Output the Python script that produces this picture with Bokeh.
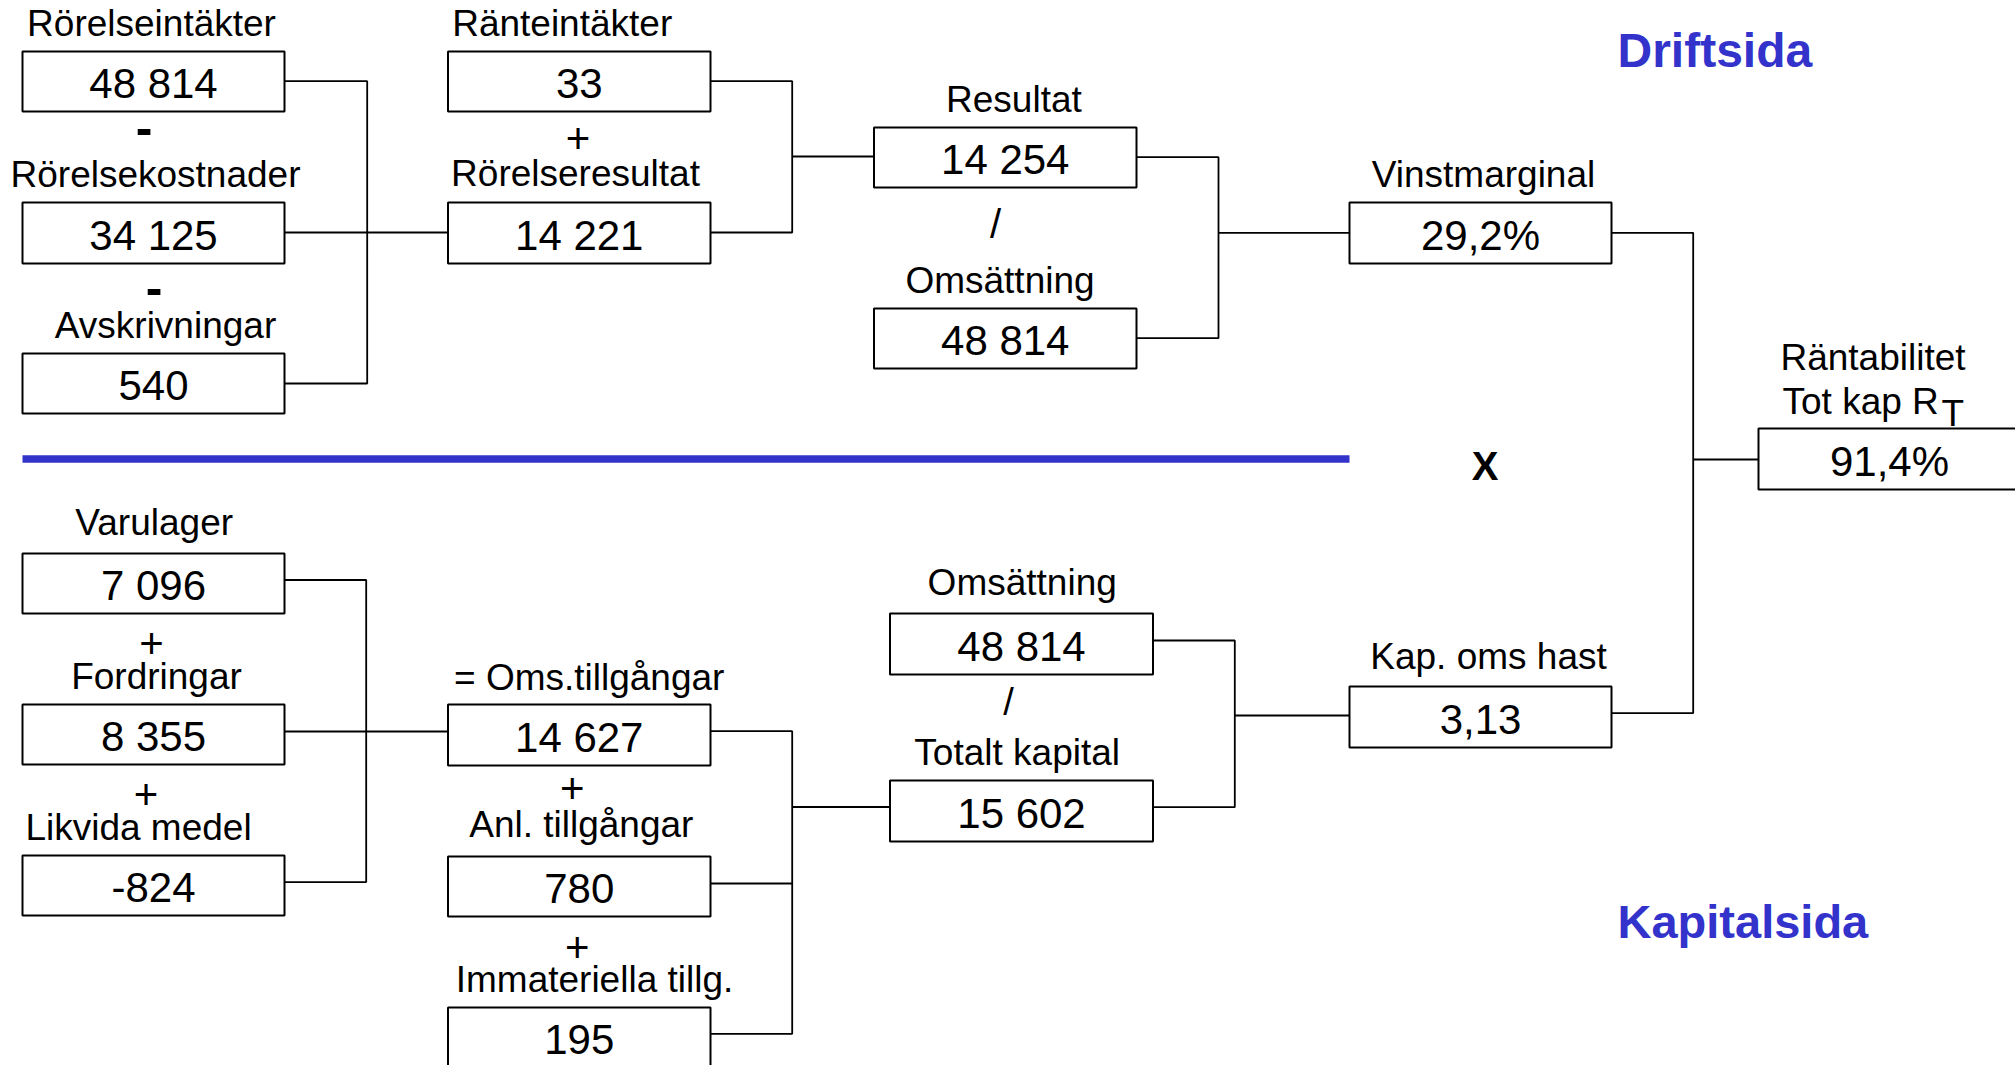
from bokeh.plotting import figure
from bokeh.models import Range1d, ColumnDataSource
from bokeh.core.properties import value
from bokeh.embed import file_html
from bokeh.resources import INLINE

# ---------------- data ----------------
drift_labels = ["Rörelseintäkter", "Rörelsekostnader", "Avskrivningar", "Ränteintäkter",
                "Rörelseresultat", "Resultat", "Omsättning", "Vinstmarginal"]
drift_values = [48814, 34125, 540, 33, 14221, 14254, 48814, 29.2]
drift_kinds = ["int", "int", "int", "int", "int", "int", "int", "pct"]

kapital_labels = ["Varulager", "Fordringar", "Likvida medel", "= Oms.tillgångar",
                  "Anl. tillgångar", "Immateriella tillg.", "Omsättning", "Totalt kapital",
                  "Kap. oms hast"]
kapital_values = [7096, 8355, -824, 14627, 780, 195, 48814, 15602, 3.13]
kapital_kinds = ["int", "int", "int", "int", "int", "int", "int", "int", "dec"]

result_label = ["Räntabilitet", "Tot kap R", "T"]
result_value = [91.4]
result_kind = ["pct"]

operators = ["-", "-", "+", "/", "+", "+", "+", "+", "/", "X"]
section_titles = ["Driftsida", "Kapitalsida"]


def fmt(v, kind):
    if kind == "int":
        s = f"{abs(int(v)):,}".replace(",", " ")
        return ("-" if v < 0 else "") + s
    if kind == "pct":
        return f"{v:.1f}".replace(".", ",") + "%"
    return f"{v:.2f}".replace(".", ",")


# ---------------- layout (pixel positions of the reference) ----------------
W, H = 2015, 1065
K = 0.34  # baseline correction (fraction of font size)

C1 = (22, 284)
C2 = (447.5, 710)
drift_boxes = [
    (*C1, 51, 111), (*C1, 202, 263), (*C1, 353, 413),
    (*C2, 51, 111), (*C2, 202, 263),
    (873.5, 1136, 127, 187), (873.5, 1136, 308, 368),
    (1349, 1611, 202, 263),
]
kapital_boxes = [
    (*C1, 553, 613), (*C1, 704, 764), (*C1, 855, 915),
    (*C2, 704, 765), (*C2, 856, 916), (*C2, 1007, 1067),
    (889.5, 1152.5, 613, 674), (889.5, 1152.5, 780, 841),
    (1349, 1611, 686, 747),
]
result_boxes = [(1758, 2025, 428, 489)]

drift_label_pos = [(151, 36), (155, 186.7), (165, 338), (561.7, 36), (575, 186),
                   (1013.4, 111.7), (999.5, 293), (1483, 186.7)]
kapital_label_pos = [(153.7, 535), (156, 689), (138, 840), (588.7, 690), (580.8, 836.7),
                     (594, 991.7), (1021.7, 595), (1016.7, 765), (1488, 669)]

op_pos = [(143.5, 144, 50, "bold"), (153.5, 304, 50, "bold"),
          (577.5, 152, 42, "normal"), (995, 237.5, 40, "normal"),
          (151, 657, 42, "normal"), (145.5, 808, 42, "normal"),
          (571.7, 802, 42, "normal"), (576.7, 961, 42, "normal"),
          (1008, 714.5, 38, "normal"), (1484.5, 479, 40, "bold")]

connectors_x = [
    [284, 366.7, 366.7, 284], [284, 447.5], [710, 791.7, 791.7, 710], [791.7, 873.5],
    [1136, 1218, 1218, 1136], [1218, 1349], [1611, 1692.7, 1692.7, 1611], [1692.7, 1758],
    [284, 365.7, 365.7, 284], [284, 447.5], [710, 791.7, 791.7, 710], [710, 791.7],
    [791.7, 889.5], [1152.5, 1234.3, 1234.3, 1152.5], [1234.3, 1349],
]
connectors_y = [
    [80.7, 80.7, 383, 383], [232, 232], [80.7, 80.7, 232, 232], [156, 156],
    [156.7, 156.7, 337.7, 337.7], [232.3, 232.3], [232.3, 232.3, 712.6, 712.6], [459, 459],
    [579.5, 579.5, 881.6, 881.6], [731, 731], [730.7, 730.7, 1033.3, 1033.3], [883, 883],
    [806.5, 806.5], [640, 640, 806.7, 806.7], [715, 715],
]

FONT = value("Liberation Sans")
BLUE = "#3333CC"
NUM_FS = 42
LAB_FS = 37

p = figure(width=W, height=H, x_range=Range1d(0, W), y_range=Range1d(H, 0),
           toolbar_location=None, output_backend="svg", min_border=0)
p.axis.visible = False
p.grid.visible = False
p.outline_line_color = None
p.background_fill_color = "white"
p.border_fill_color = "white"

# connectors
p.multi_line(xs=connectors_x, ys=connectors_y, line_color="black", line_width=1.8)

# divider
p.segment(x0=[22], y0=[458.5], x1=[1349], y1=[458.5], line_color=BLUE, line_width=7.5,
          line_cap="butt")

# boxes
all_boxes = drift_boxes + kapital_boxes + result_boxes
box_src = ColumnDataSource(dict(
    left=[b[0] for b in all_boxes], right=[b[1] for b in all_boxes],
    top=[b[2] for b in all_boxes], bottom=[b[3] for b in all_boxes]))
p.quad(left="left", right="right", top="top", bottom="bottom", source=box_src,
       fill_color="white", line_color="black", line_width=2)

# values in boxes
all_vals = [fmt(v, k) for v, k in zip(drift_values, drift_kinds)] + \
           [fmt(v, k) for v, k in zip(kapital_values, kapital_kinds)] + \
           [fmt(v, k) for v, k in zip(result_value, result_kind)]
val_x = [(b[0] + b[1]) / 2 for b in all_boxes]
val_x[-1] = 1889
val_src = ColumnDataSource(dict(
    x=val_x, y=[b[3] - 14 - K * NUM_FS for b in all_boxes], text=all_vals))
p.text(x="x", y="y", text="text", source=val_src, text_font=FONT,
       text_font_size=f"{NUM_FS}px", text_align="center", text_baseline="alphabetic",
       text_color="black")

# labels
lab_pos = drift_label_pos + kapital_label_pos + [(1872.5, 369.3)]
lab_src = ColumnDataSource(dict(x=[q[0] for q in lab_pos],
                                y=[q[1] - K * LAB_FS for q in lab_pos],
                                text=drift_labels + kapital_labels + [result_label[0]]))
p.text(x="x", y="y", text="text", source=lab_src, text_font=FONT,
       text_font_size=f"{LAB_FS}px", text_align="center", text_baseline="alphabetic",
       text_color="black")
p.text(x=[1782], y=[414 - K * LAB_FS], text=[result_label[1]], text_font=FONT,
       text_font_size=f"{LAB_FS}px", text_align="left", text_baseline="alphabetic",
       text_color="black")
p.text(x=[1941], y=[426 - K * LAB_FS], text=[result_label[2]], text_font=FONT,
       text_font_size=f"{LAB_FS}px", text_align="left", text_baseline="alphabetic",
       text_color="black")

# operators
for (ox, oy, fs, fw), op in zip(op_pos, operators):
    p.text(x=[ox], y=[oy - K * fs], text=[op], text_font=FONT, text_font_size=f"{fs}px",
           text_font_style=fw, text_align="center", text_baseline="alphabetic",
           text_color="black")

# section titles
p.text(x=[1617], y=[66 - K * 48], text=[section_titles[0]], text_font=FONT,
       text_font_size="48px", text_font_style="bold", text_align="left",
       text_baseline="alphabetic", text_color=BLUE)
p.text(x=[1617], y=[936.7 - K * 47], text=[section_titles[1]], text_font=FONT,
       text_font_size="47px", text_font_style="bold", text_align="left",
       text_baseline="alphabetic", text_color=BLUE)

open("out.html", "w").write(file_html(p, INLINE))
